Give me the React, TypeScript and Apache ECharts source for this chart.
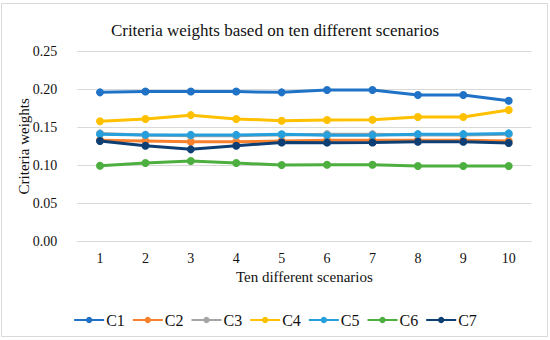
import React, { useEffect, useRef } from "react";
import * as echarts from "echarts";

const categories = ["1", "2", "3", "4", "5", "6", "7", "8", "9", "10"];
const seriesNames = ["C1", "C2", "C3", "C4", "C5", "C6", "C7"];
const c1 = [0.196, 0.197, 0.197, 0.197, 0.196, 0.199, 0.199, 0.1925, 0.1925, 0.185];
const c2 = [0.133, 0.132, 0.131, 0.131, 0.132, 0.133, 0.133, 0.133, 0.133, 0.132];
const c3 = [0.142, 0.140, 0.139, 0.139, 0.140, 0.141, 0.141, 0.140, 0.140, 0.141];
const c4 = [0.158, 0.161, 0.166, 0.161, 0.1587, 0.1596, 0.160, 0.1636, 0.1636, 0.1728];
const c5 = [0.141, 0.140, 0.140, 0.140, 0.1408, 0.1395, 0.1395, 0.141, 0.141, 0.142];
const c6 = [0.0995, 0.103, 0.1057, 0.103, 0.1004, 0.1008, 0.1008, 0.099, 0.099, 0.099];
const c7 = [0.132, 0.1258, 0.121, 0.1258, 0.130, 0.1298, 0.130, 0.131, 0.131, 0.1293];
const seriesData = [c1, c2, c3, c4, c5, c6, c7];
const colors = ["#1F72C6", "#F7812C", "#A5A5A5", "#FFC000", "#25A0DC", "#4DAF3F", "#0E3F74"];

const FONT = "'Liberation Serif', 'Times New Roman', serif";

export default function App() {
  const ref = useRef<HTMLDivElement>(null);
  useEffect(() => {
    if (!ref.current) return;
    const chart = echarts.init(ref.current, undefined, { renderer: "svg" });
    chart.setOption({
      animation: false,
      backgroundColor: "#ffffff",
      textStyle: { fontFamily: FONT },
      title: {
        text: "Criteria weights based on ten different scenarios",
        left: "center",
        top: 22,
        padding: 0,
        textStyle: { fontFamily: FONT, fontSize: 17, fontWeight: "normal", color: "#111" },
      },
      graphic: [
        {
          type: "rect",
          shape: { x: 1.5, y: 3.5, width: 546, height: 333 },
          style: { fill: "none", stroke: "#d9d9d9", lineWidth: 1 },
          silent: true,
        },
      ],
      legend: {
        data: seriesNames,
        top: 307,
        left: "center",
        itemWidth: 30,
        itemHeight: 8,
        itemGap: 7,
        textStyle: { fontFamily: FONT, fontSize: 16, color: "#111", padding: [0, 0, 0, -3] },
      },
      grid: { left: 77.3, right: 18.6, top: 51.3, bottom: 98.7, containLabel: false },
      xAxis: {
        type: "category",
        data: categories,
        boundaryGap: true,
        name: "Ten different scenarios",
        nameLocation: "middle",
        nameGap: 28,
        nameMoveOverlap: false,
        nameTextStyle: { fontFamily: FONT, fontSize: 15, color: "#111" },
        axisLine: { lineStyle: { color: "#d9d9d9" } },
        axisTick: { show: false },
        axisLabel: { fontFamily: FONT, fontSize: 14, color: "#111", margin: 10 },
      },
      yAxis: {
        type: "value",
        min: 0,
        max: 0.25,
        interval: 0.05,
        name: "Criteria weights",
        nameLocation: "middle",
        nameGap: 46,
        nameMoveOverlap: false,
        nameTextStyle: { fontFamily: FONT, fontSize: 15, color: "#111" },
        axisLine: { show: false },
        axisTick: { show: false },
        axisLabel: {
          fontFamily: FONT,
          fontSize: 14,
          color: "#111",
          margin: 20,
          formatter: (v: number) => v.toFixed(2),
        },
        splitLine: { lineStyle: { color: "#d9d9d9" } },
      },
      series: seriesNames.map((n, i) => ({
        name: n,
        type: "line",
        data: seriesData[i],
        color: colors[i],
        symbol: "circle",
        symbolSize: 8,
        lineStyle: { width: 3, color: colors[i] },
        itemStyle: { color: colors[i] },
      })),
    });
    return () => chart.dispose();
  }, []);
  return (
    <div
      ref={ref}
      style={{ position: "absolute", left: 0, top: 0, width: 550, height: 340 }}
    />
  );
}
